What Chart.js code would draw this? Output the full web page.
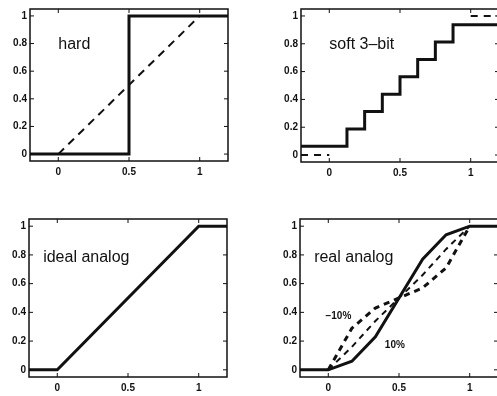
<!DOCTYPE html>
<html><head><meta charset="utf-8">
<script src="https://cdn.jsdelivr.net/npm/chart.js@4/dist/chart.umd.min.js"></script>
<style>
html,body{margin:0;padding:0;background:#fff;width:497px;height:396px;overflow:hidden;position:relative}
canvas{position:absolute}
</style></head><body>
<canvas id="c1" width="250" height="200" style="left:0;top:0"></canvas>
<canvas id="c2" width="250" height="200" style="left:271px;top:0"></canvas>
<canvas id="c3" width="250" height="196" style="left:-1px;top:200px"></canvas>
<canvas id="c4" width="250" height="196" style="left:270px;top:200px"></canvas>
<script>
// ---- data ----
const xTicks = [0, 0.5, 1];
const xTickLabels = ['0', '0.5', '1'];
const yTicks = [0, 0.2, 0.4, 0.6, 0.8, 1];
const yTickLabels = ['0', '0.2', '0.4', '0.6', '0.8', '1'];

// hard
const hardX = [-0.2, 0.5, 0.5, 1.2];
const hardY = [0, 0, 1, 1];
const hardRefX = [0, 1];
const hardRefY = [0, 1];

// soft 3-bit (step-before)
const softX = [-0.2, 0.125, 0.25, 0.375, 0.5, 0.625, 0.75, 0.875, 1.2];
const softY = [0.0625, 0.1875, 0.3125, 0.4375, 0.5625, 0.6875, 0.8125, 0.9375, 0.9375];
const softRefX = [-0.2, 0, 0.5, 1, 1.2];
const softRefY = [0, 0, null, 1, 1];

// ideal analog
const idealX = [-0.2, 0, 1, 1.2];
const idealY = [0, 0, 1, 1];

// real analog
const realX = [-0.2, 0, 0.167, 0.333, 0.5, 0.667, 0.833, 1, 1.2];
const realP10 = [0, 0, 0.06, 0.23, 0.5, 0.77, 0.94, 1, 1];
const realMid = [null, 0, 0.16, 0.34, 0.5, 0.66, 0.84, 1, null];
const realM10 = [null, 0, 0.29, 0.43, 0.5, 0.57, 0.71, 1, null];

// ---- helpers ----
const INK = '#111';
const pts = (xs, ys) => xs.map((x, i) => ({x: x, y: ys[i]}));
const solid = (data, extra) => Object.assign({data, borderColor: INK, borderWidth: 3, pointRadius: 0, fill: false, tension: 0}, extra || {});
const dashed = (data, w, dash) => ({data, borderColor: INK, borderWidth: w, borderDash: dash, pointRadius: 0, fill: false, tension: 0});

const frame = {
  id: 'frame',
  afterDatasetsDraw(chart) {
    const {ctx, chartArea: a, scales: {x, y}} = chart;
    ctx.save();
    ctx.strokeStyle = INK;
    ctx.lineWidth = 1.5;
    ctx.strokeRect(a.left, a.top, a.right - a.left, a.bottom - a.top);
    ctx.lineWidth = 1;
    ctx.beginPath();
    xTicks.forEach(v => {
      const p = x.getPixelForValue(v);
      ctx.moveTo(p, a.bottom); ctx.lineTo(p, a.bottom - 4);
      ctx.moveTo(p, a.top); ctx.lineTo(p, a.top + 4);
    });
    yTicks.forEach(v => {
      const p = y.getPixelForValue(v);
      ctx.moveTo(a.left, p); ctx.lineTo(a.left + 4, p);
      ctx.moveTo(a.right, p); ctx.lineTo(a.right - 4, p);
    });
    ctx.stroke();
    ctx.restore();
  }
};

function notesPlugin(notes) {
  return {
    id: 'notes',
    afterDatasetsDraw(chart) {
      const {ctx, scales: {x, y}} = chart;
      ctx.save();
      ctx.fillStyle = INK;
      ctx.textAlign = 'left';
      ctx.textBaseline = 'alphabetic';
      notes.forEach(n => {
        ctx.font = n.font;
        ctx.fillText(n.text, x.getPixelForValue(n.x), y.getPixelForValue(n.y));
      });
      ctx.restore();
    }
  };
}

const tickFont = {family: 'Liberation Sans, Arial, sans-serif', size: 10, weight: 'bold'};
const bigFont = '16px "Liberation Sans", Arial, sans-serif';
const smallFont = 'bold 10px "Liberation Sans", Arial, sans-serif';

function make(id, datasets, notes, padTop, xHeight) {
  new Chart(document.getElementById(id), {
    type: 'line',
    data: {datasets},
    options: {
      responsive: false,
      animation: false,
      events: [],
      layout: {padding: {top: padTop, right: 22, left: 0, bottom: 0}},
      plugins: {legend: {display: false}, tooltip: {enabled: false}},
      scales: {
        x: {
          type: 'linear', min: -0.2, max: 1.2,
          grid: {display: false, drawTicks: false, tickLength: 0},
          border: {display: false},
          afterBuildTicks: s => { s.ticks = xTicks.map(v => ({value: v})); },
          afterFit: s => { s.height = xHeight; },
          ticks: {color: INK, font: tickFont, padding: 5, maxRotation: 0, autoSkip: false,
                  callback: (v) => xTickLabels[xTicks.indexOf(v)]}
        },
        y: {
          type: 'linear', min: -0.05, max: 1.05,
          grid: {display: false, drawTicks: false, tickLength: 0},
          border: {display: false},
          afterBuildTicks: s => { s.ticks = yTicks.map(v => ({value: v})); },
          afterFit: s => { s.width = 30; },
          ticks: {color: INK, font: tickFont, padding: 3, autoSkip: false,
                  callback: (v) => yTickLabels[yTicks.indexOf(v)]}
        }
      }
    },
    plugins: [frame, notesPlugin(notes)]
  });
}

make('c1', [
  dashed(pts(hardRefX, hardRefY), 2, [8, 6]),
  solid(pts(hardX, hardY))
], [{text: 'hard', x: 0, y: 0.76, font: bigFont}], 5, 39);

make('c2', [
  dashed(pts(softRefX, softRefY), 2, [7, 6]),
  solid(pts(softX, softY), {stepped: 'before'})
], [{text: 'soft 3\u2013bit', x: 0, y: 0.76, font: bigFont}], 5, 38);

make('c3', [
  solid(pts(idealX, idealY))
], [{text: 'ideal analog', x: -0.1, y: 0.75, font: bigFont}], 19, 19);

make('c4', [
  dashed(pts(realX, realM10), 3, [6, 5]),
  dashed(pts(realX, realMid), 2, [6, 5]),
  solid(pts(realX, realP10))
], [
  {text: 'real analog', x: -0.1, y: 0.75, font: bigFont},
  {text: '\u221210%', x: -0.02, y: 0.355, font: smallFont},
  {text: '10%', x: 0.4, y: 0.15, font: smallFont}
], 19, 19);
</script>
</body></html>
